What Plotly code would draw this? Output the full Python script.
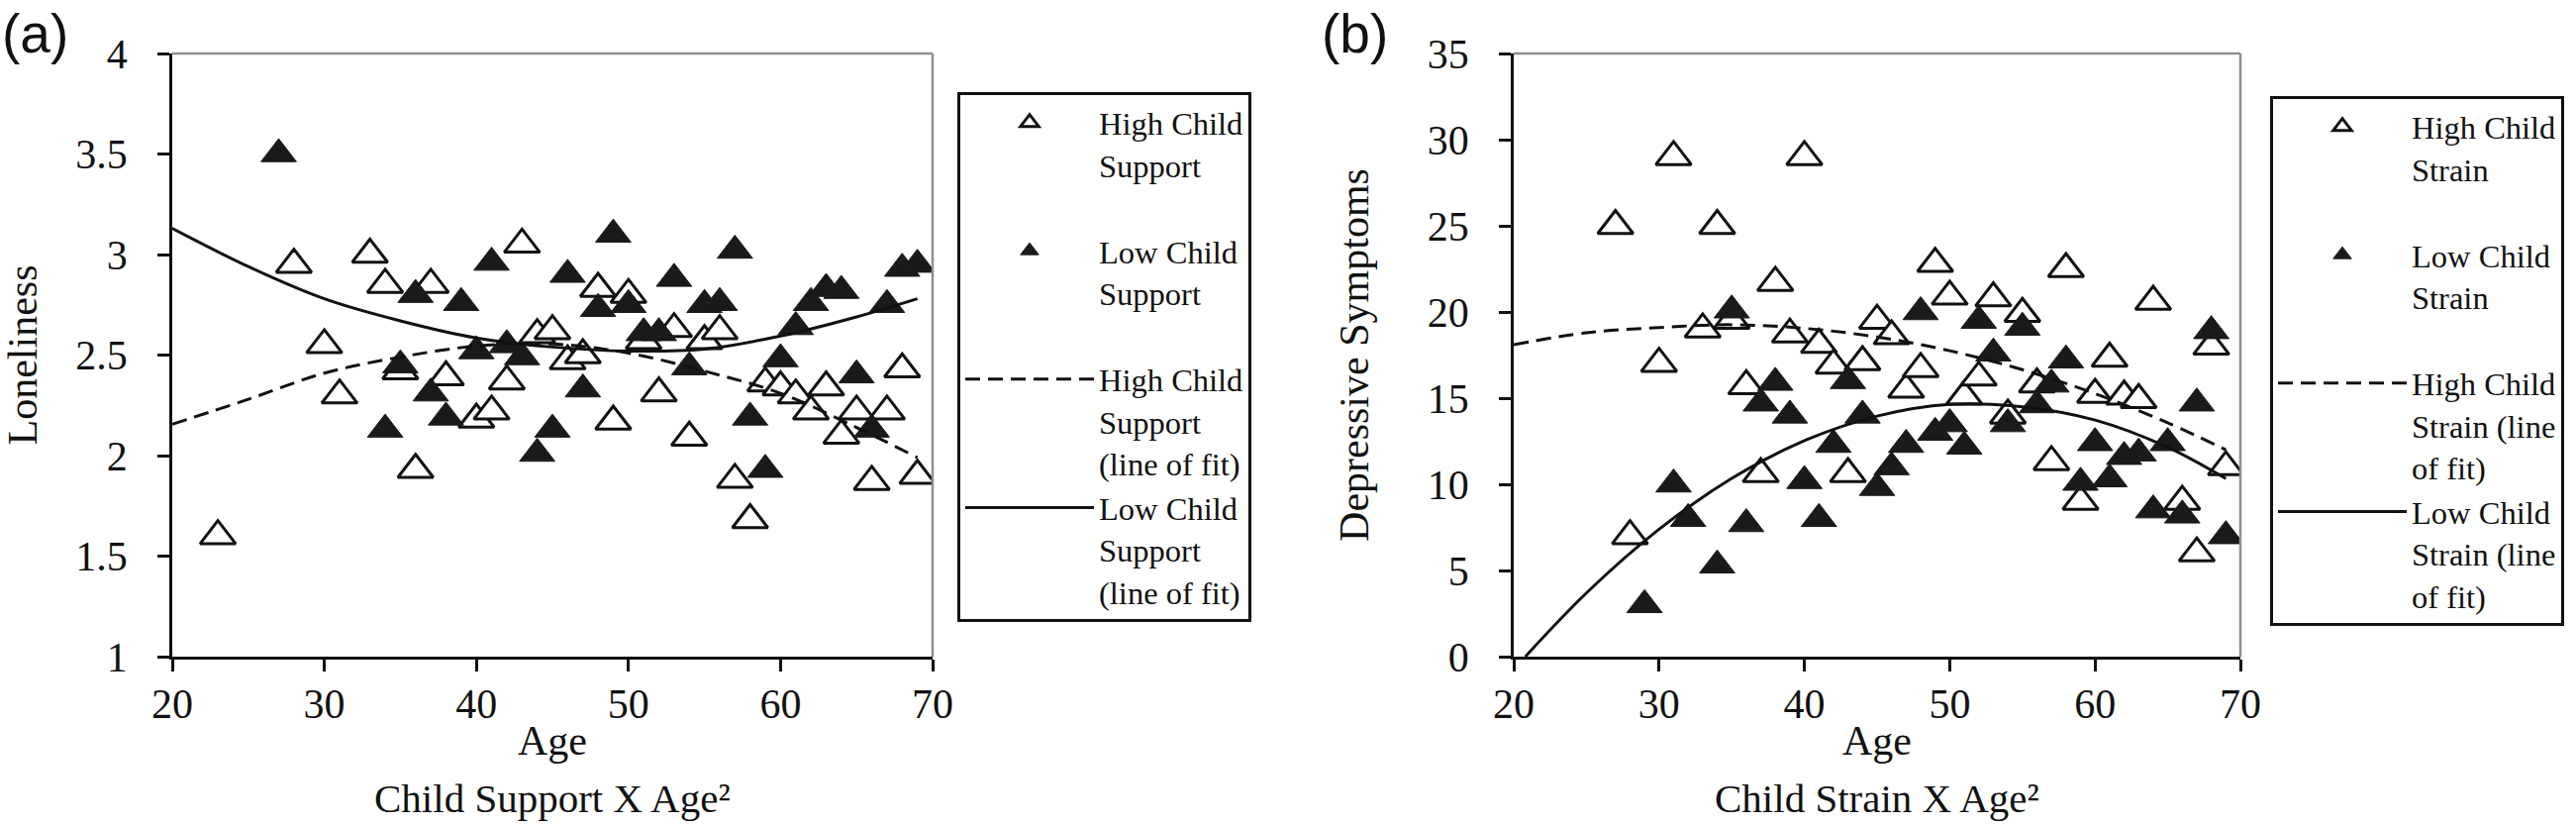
import plotly.graph_objects as go

# ---------------- data: panel (a) ----------------
age_high_a = [23, 28, 30, 31, 33, 34, 35, 36, 37, 38, 40, 41, 42, 43, 44, 45, 46, 47, 48, 49,
              50, 51, 52, 53, 54, 55, 56, 57, 58, 59, 60, 61, 62, 63, 64, 65, 66, 67, 68, 69]
lon_high_a = [1.60, 2.95, 2.55, 2.30, 3.00, 2.85, 2.42, 1.93, 2.85, 2.39, 2.18, 2.22, 2.37, 3.05, 2.60, 2.62, 2.47, 2.50, 2.83, 2.17,
              2.80, 2.57, 2.31, 2.63, 2.09, 2.57, 2.62, 1.88, 1.68, 2.36, 2.34, 2.30, 2.22, 2.34, 2.10, 2.22, 1.87, 2.22, 2.43, 1.90]
age_low_a = [27, 34, 35, 36, 37, 38, 39, 40, 41, 42, 43, 44, 45, 46, 47, 48, 49, 50, 51,
             52, 53, 54, 55, 56, 57, 58, 59, 60, 61, 62, 63, 64, 65, 66, 67, 68, 69]
lon_low_a = [3.50, 2.13, 2.45, 2.80, 2.31, 2.19, 2.76, 2.52, 2.96, 2.55, 2.49, 2.01, 2.13, 2.90, 2.33, 2.73, 3.10, 2.75, 2.61,
             2.61, 2.88, 2.44, 2.75, 2.76, 3.02, 2.19, 1.93, 2.48, 2.64, 2.76, 2.83, 2.82, 2.40, 2.13, 2.75, 2.93, 2.95]
fit_age_a = [20, 25, 30, 35, 40, 45, 50, 55, 60, 65, 69]
fit_high_a = [2.156, 2.28, 2.41, 2.49, 2.545, 2.555, 2.51, 2.42, 2.31, 2.14, 1.99]
fit_low_a = [3.13, 2.94, 2.78, 2.67, 2.585, 2.54, 2.52, 2.53, 2.595, 2.69, 2.78]

# ---------------- data: panel (b) ----------------
age_high_b = [27, 28, 30, 31, 33, 34, 35, 36, 37, 38, 39, 40, 41, 42, 43, 44, 45, 46, 47, 48,
              49, 50, 51, 52, 53, 54, 55, 56, 57, 58, 59, 60, 61, 62, 63, 64, 66, 67, 68, 69]
dep_high_b = [25.0, 7.0, 17.0, 29.0, 19.0, 25.0, 19.5, 15.7, 10.6, 21.7, 18.7, 29.0, 18.1, 16.9, 10.6, 17.1, 19.5, 18.6, 15.5, 16.7,
              22.8, 20.9, 15.1, 16.2, 20.8, 14.0, 19.9, 15.8, 11.3, 22.5, 9.0, 15.2, 17.3, 15.1, 14.9, 20.6, 9.0, 6.0, 18.0, 11.0]
age_low_b = [29, 31, 32, 34, 35, 36, 37, 38, 39, 40, 41, 42, 43, 44, 45, 46, 47, 48, 49, 50,
             51, 52, 53, 54, 55, 56, 57, 58, 59, 60, 61, 62, 63, 64, 65, 66, 67, 68, 69]
dep_low_b = [3.0, 10.0, 8.0, 5.3, 20.1, 7.7, 14.7, 15.9, 14.0, 10.2, 8.0, 12.3, 16.0, 14.0, 9.8, 11.0, 12.3, 20.0, 13.0, 13.5,
             12.2, 19.5, 17.6, 13.5, 19.1, 14.6, 15.8, 17.2, 10.1, 12.4, 10.3, 11.6, 11.8, 8.5, 12.4, 8.2, 14.7, 18.9, 7.0]
fit_age_high_b = [20, 25, 30, 35, 40, 45, 50, 55, 60, 65, 69]
fit_high_b = [18.1, 18.79, 19.1, 19.26, 19.05, 18.55, 17.75, 16.65, 15.26, 13.57, 12.0]
fit_age_low_b = [20.8, 25, 30, 35, 40, 45, 50, 55, 60, 65, 69]
fit_low_b = [0.0, 3.69, 7.39, 10.34, 12.53, 13.96, 14.64, 14.5, 13.73, 12.15, 10.33]

x_ticks = [20, 30, 40, 50, 60, 70]

SERIF = "Liberation Serif, Times New Roman, serif"
INK = "#111111"
FILL = "#1a1a1a"
W, H = 2602, 834

fig = go.Figure()

def add_panel(xa, ya, legend, tag, ax_h, ay_h, ax_l, ay_l, fx_h, fy_h, fx_l, fy_l, names):
    fig.add_trace(go.Scatter(x=ax_h, y=ay_h, mode="markers", name=names[0], xaxis=xa, yaxis=ya, legend=legend,
                             legendgroup=tag + "1",
                             marker=dict(symbol="triangle-up", size=31, color="white",
                                         line=dict(color=INK, width=3))))
    fig.add_trace(go.Scatter(x=ax_l, y=ay_l, mode="markers", name=names[1], xaxis=xa, yaxis=ya, legend=legend,
                             legendgroup=tag + "2",
                             marker=dict(symbol="triangle-up", size=31, color=FILL,
                                         line=dict(color=FILL, width=1))))
    fig.add_trace(go.Scatter(x=fx_h, y=fy_h, mode="lines", name=names[2], xaxis=xa, yaxis=ya, legend=legend,
                             legendgroup=tag + "3",
                             line=dict(color=INK, width=3, dash="15px,8px", shape="spline")))
    fig.add_trace(go.Scatter(x=fx_l, y=fy_l, mode="lines", name=names[3], xaxis=xa, yaxis=ya, legend=legend,
                             legendgroup=tag + "3",
                             line=dict(color=INK, width=3, shape="spline")))

add_panel("x", "y", "legend", "a", age_high_a, lon_high_a, age_low_a, lon_low_a,
          fit_age_a, fit_high_a, fit_age_a, fit_low_a,
          ["High Child<br>Support", "Low Child<br>Support",
           "High Child<br>Support<br>(line of fit)", "Low Child<br>Support<br>(line of fit)"])
add_panel("x2", "y2", "legend2", "b", age_high_b, dep_high_b, age_low_b, dep_low_b,
          fit_age_high_b, fit_high_b, fit_age_low_b, fit_low_b,
          ["High Child<br>Strain", "Low Child<br>Strain",
           "High Child<br>Strain (line<br>of fit)", "Low Child<br>Strain (line<br>of fit)"])

def px_x(p):
    return p / W

def px_y(p):
    return 1 - p / H

def axis_style(title, standoff):
    return dict(showgrid=False, zeroline=False, showline=True, linecolor=INK, linewidth=2.5,
                ticks="outside", ticklen=12, tickwidth=2.5, tickcolor=INK, automargin=False,
                tickfont=dict(family=SERIF, size=42, color=INK),
                title=dict(text=title, standoff=standoff, font=dict(family=SERIF, size=42, color=INK)))

def legend_style(x, y):
    return dict(x=x, y=y, xanchor="left", yanchor="top", bgcolor="white",
                bordercolor=INK, borderwidth=3, valign="top", itemwidth=130, tracegroupgap=42,
                traceorder="grouped", font=dict(family=SERIF, size=32.5, color=INK))

dom_y = [px_y(663), px_y(54)]
fig.update_layout(
    width=W, height=H, autosize=False,
    margin=dict(l=0, r=0, t=0, b=0, pad=0, autoexpand=False),
    paper_bgcolor="white", plot_bgcolor="white",
    font=dict(family=SERIF, color=INK),
    xaxis=dict(domain=[px_x(174), px_x(942)], range=[20, 70], tickvals=x_ticks, anchor="y",
               ticklabelstandoff=-3, **axis_style("Age", 0)),
    yaxis=dict(domain=dom_y, range=[1, 4], dtick=0.5, anchor="x", ticklabelstandoff=22,
               **axis_style("Loneliness", 44)),
    xaxis2=dict(domain=[px_x(1529), px_x(2263)], range=[20, 70], tickvals=x_ticks, anchor="y2",
                ticklabelstandoff=-3, **axis_style("Age", 0)),
    yaxis2=dict(domain=dom_y, range=[0, 35], dtick=5, anchor="x2", ticklabelstandoff=22,
                **axis_style("Depressive Symptoms", 47)),
    legend=legend_style(px_x(967), px_y(93)),
    legend2=legend_style(px_x(2293), px_y(97)),
    showlegend=True,
)

# grey top/right frame
for xr, yr in (("x domain", "y domain"), ("x2 domain", "y2 domain")):
    fig.add_shape(type="line", xref=xr, yref=yr, x0=0, x1=1, y0=1, y1=1, line=dict(color="#8f8f8f", width=2.5))
    fig.add_shape(type="line", xref=xr, yref=yr, x0=1, x1=1, y0=0, y1=1, line=dict(color="#8f8f8f", width=2.5))

def ann(text, x, y, size=42, family=SERIF, angle=0, xanchor="center"):
    fig.add_annotation(text=text, x=x, y=y, xref="paper", yref="paper", showarrow=False,
                       xanchor=xanchor, yanchor="middle", textangle=angle,
                       font=dict(family=family, size=size, color=INK))

ann("(a)", 0.0, px_y(34), size=55, family="Liberation Sans", xanchor="left")
ann("(b)", px_x(1333), px_y(34), size=55, family="Liberation Sans", xanchor="left")
ann("Child Support X Age\u00b2", px_x(558), px_y(806), size=41)
ann("Child Strain X Age\u00b2", px_x(1896), px_y(806), size=41)

fig.write_html("out.html", config={"displayModeBar": False},
               post_script="document.body.style.margin='0px';document.body.style.padding='0px';")
